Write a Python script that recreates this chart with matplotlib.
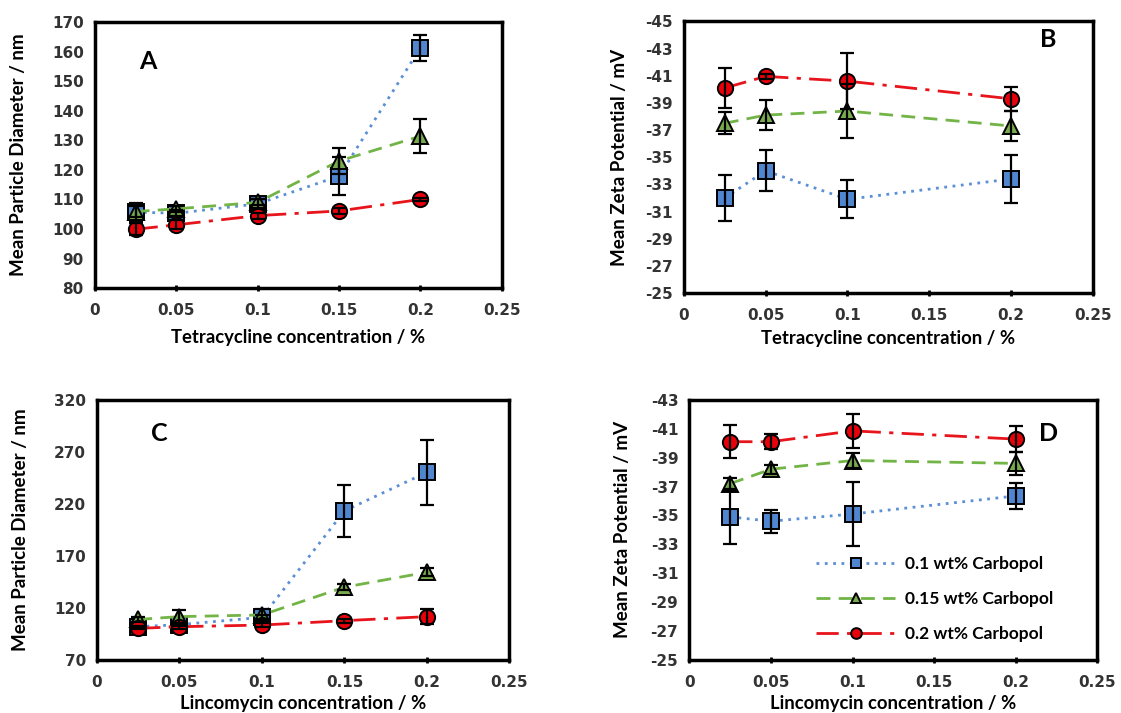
import matplotlib
matplotlib.use('Agg')
import matplotlib.pyplot as plt

# concentrations (%)
conc_a = [0.025, 0.05, 0.1, 0.15, 0.2]
conc_b = [0.025, 0.05, 0.1, 0.2]
conc_c = [0.025, 0.05, 0.1, 0.15, 0.2]
conc_d = [0.025, 0.05, 0.1, 0.2]

# A: tetracycline, particle size (nm)
size_a_01 = [105.7, 105.3, 108.5, 117.9, 161.3]
size_a_01_err = [3.0, 1.0, 1.5, 6.5, 4.5]
size_a_015 = [105.9, 106.8, 109.0, 123.0, 131.4]
size_a_015_err = [2.0, 1.0, 1.0, 4.3, 5.8]
size_a_02 = [99.9, 101.4, 104.5, 106.1, 110.0]
size_a_02_err = [2.0, 1.5, 1.0, 1.0, 0.5]

# B: tetracycline, zeta potential (mV)
zeta_b_01 = [-32.0, -34.0, -31.9, -33.4]
zeta_b_01_err = [1.7, 1.5, 1.4, 1.75]
zeta_b_015 = [-37.5, -38.1, -38.4, -37.3]
zeta_b_015_err = [0.8, 1.1, 2.0, 1.1]
zeta_b_02 = [-40.1, -40.95, -40.6, -39.3]
zeta_b_02_err = [1.5, 0.2, 2.05, 0.9]

# C: lincomycin, particle size (nm)
size_c_01 = [102.0, 104.0, 111.0, 213.3, 250.4]
size_c_01_err = [1.0, 1.0, 2.0, 25.0, 31.0]
size_c_015 = [109.0, 111.7, 113.3, 140.0, 154.3]
size_c_015_err = [2.0, 6.0, 6.0, 3.0, 4.0]
size_c_02 = [100.4, 102.0, 103.6, 107.8, 111.7]
size_c_02_err = [1.0, 2.0, 2.0, 2.0, 7.0]

# D: lincomycin, zeta potential (mV)
zeta_d_01 = [-34.9, -34.6, -35.1, -36.35]
zeta_d_01_err = [1.85, 0.8, 2.2, 0.9]
zeta_d_015 = [-37.2, -38.2, -38.8, -38.6]
zeta_d_015_err = [0.4, 0.3, 0.55, 0.8]
zeta_d_02 = [-40.1, -40.1, -40.85, -40.28]
zeta_d_02_err = [1.15, 0.5, 1.2, 0.9]

labels = ['0.1 wt% Carbopol', '0.15 wt% Carbopol', '0.2 wt% Carbopol']
line_colors = ['#5b8fd6', '#72b446', '#e8141c']
face_colors = ['#4f86cf', '#79ab4e', '#e8000b']
markers = ['s', '^', 'o']
styles = [(0, (1, 2)), (0, (5, 3)), (0, (8, 3, 1.5, 3))]

label_font = 'Lato'


def draw(ax, x, series, errs, ylim, yticks, xlabel, ylabel, letter, lpos, xpad, ypad):
    for i in range(3):
        ax.plot(x, series[i], linestyle=styles[i], color=line_colors[i],
                linewidth=2.0, zorder=2, label=labels[i],
                marker=markers[i], markersize=11,
                markerfacecolor=face_colors[i], markeredgecolor='black',
                markeredgewidth=1.4)
        ax.errorbar(x, series[i], yerr=errs[i], fmt='none', ecolor='black',
                    elinewidth=1.6, capsize=5, capthick=1.6, zorder=3)
    ax.set_xlim(0, 0.25)
    ax.set_xticks([0, 0.05, 0.1, 0.15, 0.2, 0.25])
    ax.set_xticklabels(['0', '0.05', '0.1', '0.15', '0.2', '0.25'])
    ax.set_ylim(*ylim)
    ax.set_yticks(yticks)
    ax.set_yticklabels([str(t) for t in yticks])
    ax.tick_params(axis='x', direction='inout', length=5, width=2, pad=8)
    ax.tick_params(axis='y', length=0, pad=8)
    for lab in ax.get_xticklabels() + ax.get_yticklabels():
        lab.set_fontweight('bold')
        lab.set_fontsize(11)
        lab.set_color('#333333')
    for s in ax.spines.values():
        s.set_linewidth(2.5)
    ax.set_xlabel(xlabel, fontsize=13.3, fontweight='bold', family=label_font, labelpad=xpad)
    ax.set_ylabel(ylabel, fontsize=13.5, fontweight='bold', family=label_font, labelpad=ypad)
    ax.text(lpos[0], lpos[1], letter, transform=ax.transAxes, fontsize=18,
            fontweight='bold', family=label_font, ha='center', va='center')


fig = plt.figure(figsize=(11.21, 7.13), dpi=100)
ax_a = fig.add_axes([0.0847, 0.596, 0.363, 0.373])
ax_b = fig.add_axes([0.610, 0.589, 0.365, 0.381])
ax_c = fig.add_axes([0.0865, 0.0743, 0.368, 0.365])
ax_d = fig.add_axes([0.615, 0.0743, 0.364, 0.365])

draw(ax_a, conc_a, [size_a_01, size_a_015, size_a_02],
     [size_a_01_err, size_a_015_err, size_a_02_err],
     (80, 170), list(range(80, 171, 10)),
     'Tetracycline concentration / %', 'Mean Particle Diameter / nm', 'A', (0.13, 0.85), 8, 18)

draw(ax_b, conc_b, [zeta_b_01, zeta_b_015, zeta_b_02],
     [zeta_b_01_err, zeta_b_015_err, zeta_b_02_err],
     (-25, -45), list(range(-45, -24, 2)),
     'Tetracycline concentration / %', 'Mean Zeta Potential / mV', 'B', (0.89, 0.935), 5, 12)

draw(ax_c, conc_c, [size_c_01, size_c_015, size_c_02],
     [size_c_01_err, size_c_015_err, size_c_02_err],
     (70, 320), list(range(70, 321, 50)),
     'Lincomycin concentration / %', 'Mean Particle Diameter / nm', 'C', (0.15, 0.87), 4, 18)

draw(ax_d, conc_d, [zeta_d_01, zeta_d_015, zeta_d_02],
     [zeta_d_01_err, zeta_d_015_err, zeta_d_02_err],
     (-25, -43), list(range(-43, -24, 2)),
     'Lincomycin concentration / %', 'Mean Zeta Potential / mV', 'D', (0.88, 0.87), 4, 14)

ax_d.legend(loc='lower right', bbox_to_anchor=(0.93, 0.01), frameon=False,
            prop={'family': label_font, 'weight': 'bold', 'size': 12.5},
            labelspacing=1.1, handlelength=4.5, handletextpad=0.6, markerscale=0.7)

fig.savefig('out.png', dpi=100)
